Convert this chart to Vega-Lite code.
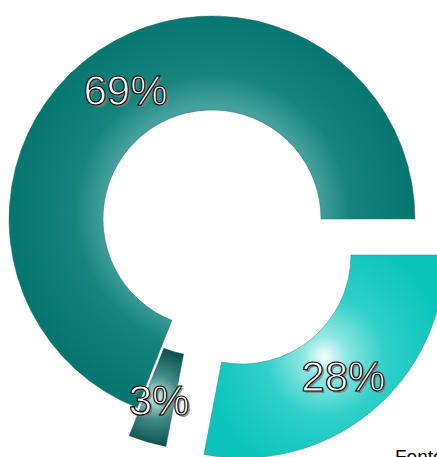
{
  "$schema": "https://vega.github.io/schema/vega-lite/v6.json",
  "width": 424,
  "height": 438,
  "autosize": {"type": "none"},
  "padding": {"left": 0, "top": 0, "right": 13, "bottom": 19},
  "background": "white",
  "config": {"view": {"stroke": null}},
  "title": {
    "text": "Fonte:",
    "orient": "bottom",
    "anchor": "start",
    "frame": "group",
    "offset": 0,
    "dy": -12,
    "dx": 395,
    "font": "Liberation Sans",
    "fontSize": 19,
    "fontWeight": "normal",
    "color": "#000000"
  },
  "data": {
    "values": [
      {"label": "69%", "value": 69},
      {"label": "28%", "value": 28},
      {"label": "3%", "value": 3}
    ]
  },
  "encoding": {
    "theta": {
      "field": "value",
      "type": "quantitative",
      "stack": true,
      "scale": {"domain": [0, 100], "range": [3.5186, 9.8018]}
    },
    "order": {"field": "value", "type": "quantitative", "sort": "descending"}
  },
  "layer": [
    {
      "mark": {
        "type": "arc",
        "radius": 203,
        "radius2": 109,
        "stroke": "#2d6e6a",
        "strokeWidth": 0.8,
        "strokeOpacity": 0.6,
        "fill": {
          "gradient": "radial",
          "x1": 0.5, "y1": 0.5, "r1": 0,
          "x2": 0.5, "y2": 0.5, "r2": 0.5,
          "stops": [
            {"offset": 0, "color": "#46a09b"},
            {"offset": 0.53, "color": "#43a09b"},
            {"offset": 0.68, "color": "#16837d"},
            {"offset": 1, "color": "#067570"}
          ]
        }
      },
      "encoding": {
        "opacity": {"condition": {"test": "datum.value === 69", "value": 1}, "value": 0}
      }
    },
    {
      "mark": {
        "type": "arc",
        "radius": 203,
        "radius2": 109,
        "xOffset": 30,
        "yOffset": 36,
        "stroke": "#4a7c79",
        "strokeWidth": 0.8,
        "strokeOpacity": 0.6,
        "fill": {
          "gradient": "radial",
          "x1": 0.5, "y1": 0.5, "r1": 0,
          "x2": 0.5, "y2": 0.5, "r2": 0.5,
          "stops": [
            {"offset": 0, "color": "#f2ffff"},
            {"offset": 0.18, "color": "#8fe6e2"},
            {"offset": 0.5, "color": "#2fd0c9"},
            {"offset": 1, "color": "#0cc4bc"}
          ]
        }
      },
      "encoding": {
        "opacity": {"condition": {"test": "datum.value === 28", "value": 1}, "value": 0}
      }
    },
    {
      "mark": {
        "type": "arc",
        "radius": 203,
        "radius2": 109,
        "xOffset": -8,
        "yOffset": 28,
        "stroke": "#2d5553",
        "strokeWidth": 0.8,
        "strokeOpacity": 0.6,
        "fill": {
          "gradient": "radial",
          "x1": 0.5, "y1": 0.5, "r1": 0,
          "x2": 0.5, "y2": 0.5, "r2": 0.5,
          "stops": [
            {"offset": 0, "color": "#d5eeec"},
            {"offset": 0.45, "color": "#3f8c87"},
            {"offset": 1, "color": "#0b514d"}
          ]
        }
      },
      "encoding": {
        "opacity": {"condition": {"test": "datum.value === 3", "value": 1}, "value": 0}
      }
    },
    {
      "mark": {"type": "text", "radius": 154, "font": "Liberation Sans", "fontSize": 42, "fill": "#808080", "fillOpacity": 0.8, "dx": 2, "dy": 2},
      "encoding": {
        "text": {"field": "label"},
        "opacity": {"condition": {"test": "datum.value === 69", "value": 1}, "value": 0}
      }
    },
    {
      "mark": {"type": "text", "radius": 154, "font": "Liberation Sans", "fontSize": 42, "fill": "#ffffff", "stroke": "#000000", "strokeWidth": 1.1},
      "encoding": {
        "text": {"field": "label"},
        "opacity": {"condition": {"test": "datum.value === 69", "value": 1}, "value": 0}
      }
    },
    {
      "mark": {"type": "text", "radius": 159, "xOffset": 30, "yOffset": 36, "font": "Liberation Sans", "fontSize": 42, "fill": "#808080", "fillOpacity": 0.8, "dx": 2, "dy": 2},
      "encoding": {
        "text": {"field": "label"},
        "opacity": {"condition": {"test": "datum.value === 28", "value": 1}, "value": 0}
      }
    },
    {
      "mark": {"type": "text", "radius": 159, "xOffset": 30, "yOffset": 36, "font": "Liberation Sans", "fontSize": 42, "fill": "#ffffff", "stroke": "#000000", "strokeWidth": 1.1},
      "encoding": {
        "text": {"field": "label"},
        "opacity": {"condition": {"test": "datum.value === 28", "value": 1}, "value": 0}
      }
    },
    {
      "mark": {"type": "text", "radius": 161, "xOffset": -8, "yOffset": 28, "font": "Liberation Sans", "fontSize": 42, "fill": "#808080", "fillOpacity": 0.8, "dx": 2, "dy": 2},
      "encoding": {
        "text": {"field": "label"},
        "opacity": {"condition": {"test": "datum.value === 3", "value": 1}, "value": 0}
      }
    },
    {
      "mark": {"type": "text", "radius": 161, "xOffset": -8, "yOffset": 28, "font": "Liberation Sans", "fontSize": 42, "fill": "#ffffff", "stroke": "#000000", "strokeWidth": 1.1},
      "encoding": {
        "text": {"field": "label"},
        "opacity": {"condition": {"test": "datum.value === 3", "value": 1}, "value": 0}
      }
    }
  ]
}
